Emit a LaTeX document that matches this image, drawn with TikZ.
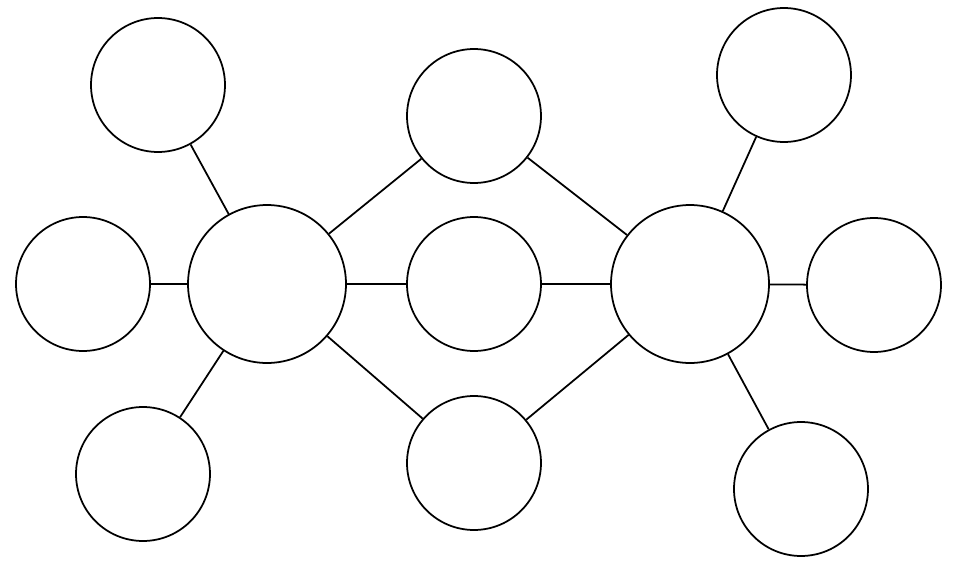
\documentclass[tikz,border=0pt]{standalone}
\usepackage{tikz}
\usetikzlibrary{positioning}

\begin{document}
\begin{tikzpicture}[x=0.02cm, y=-0.02cm]
    \tikzstyle{bigbubble}=[circle, draw=black, line width=1pt, inner sep=0pt
    , minimum size=3.16cm, fill=white]
    \tikzstyle{bubble}=[circle, draw=black, line width=1pt, inner sep=0pt
    , minimum size=2.68cm, fill=white]
    \useasboundingbox (0,0) rectangle (954,575);

    % main topics
    \node[bigbubble] (left) at (267,284) {};
    \node[bigbubble] (right) at (690,284) {};

    % shared attributes
    \node[bubble] (midtop) at (474,116) {};
    \node[bubble] (midcenter) at (474,284) {};
    \node[bubble] (midbottom) at (474,463) {};

    % left attributes
    \node[bubble] (lefttop) at (158,85) {};
    \node[bubble] (leftout) at (83,284) {};
    \node[bubble] (leftbottom) at (143,474) {};

    % right attributes
    \node[bubble] (righttop) at (784,75) {};
    \node[bubble] (rightout) at (874,285) {};
    \node[bubble] (rightbottom) at (801,489) {};

    % connectors
    \foreach \n in {lefttop, leftout, leftbottom, midtop, midcenter, midbottom}
        \draw[line width=1pt] (left) -- (\n);
    \foreach \n in {righttop, rightout, rightbottom, midtop, midbottom}
        \draw[line width=1pt] (right) -- (\n);
    \draw[line width=0.6pt] (right) -- (midcenter);

\end{tikzpicture}
\end{document}
